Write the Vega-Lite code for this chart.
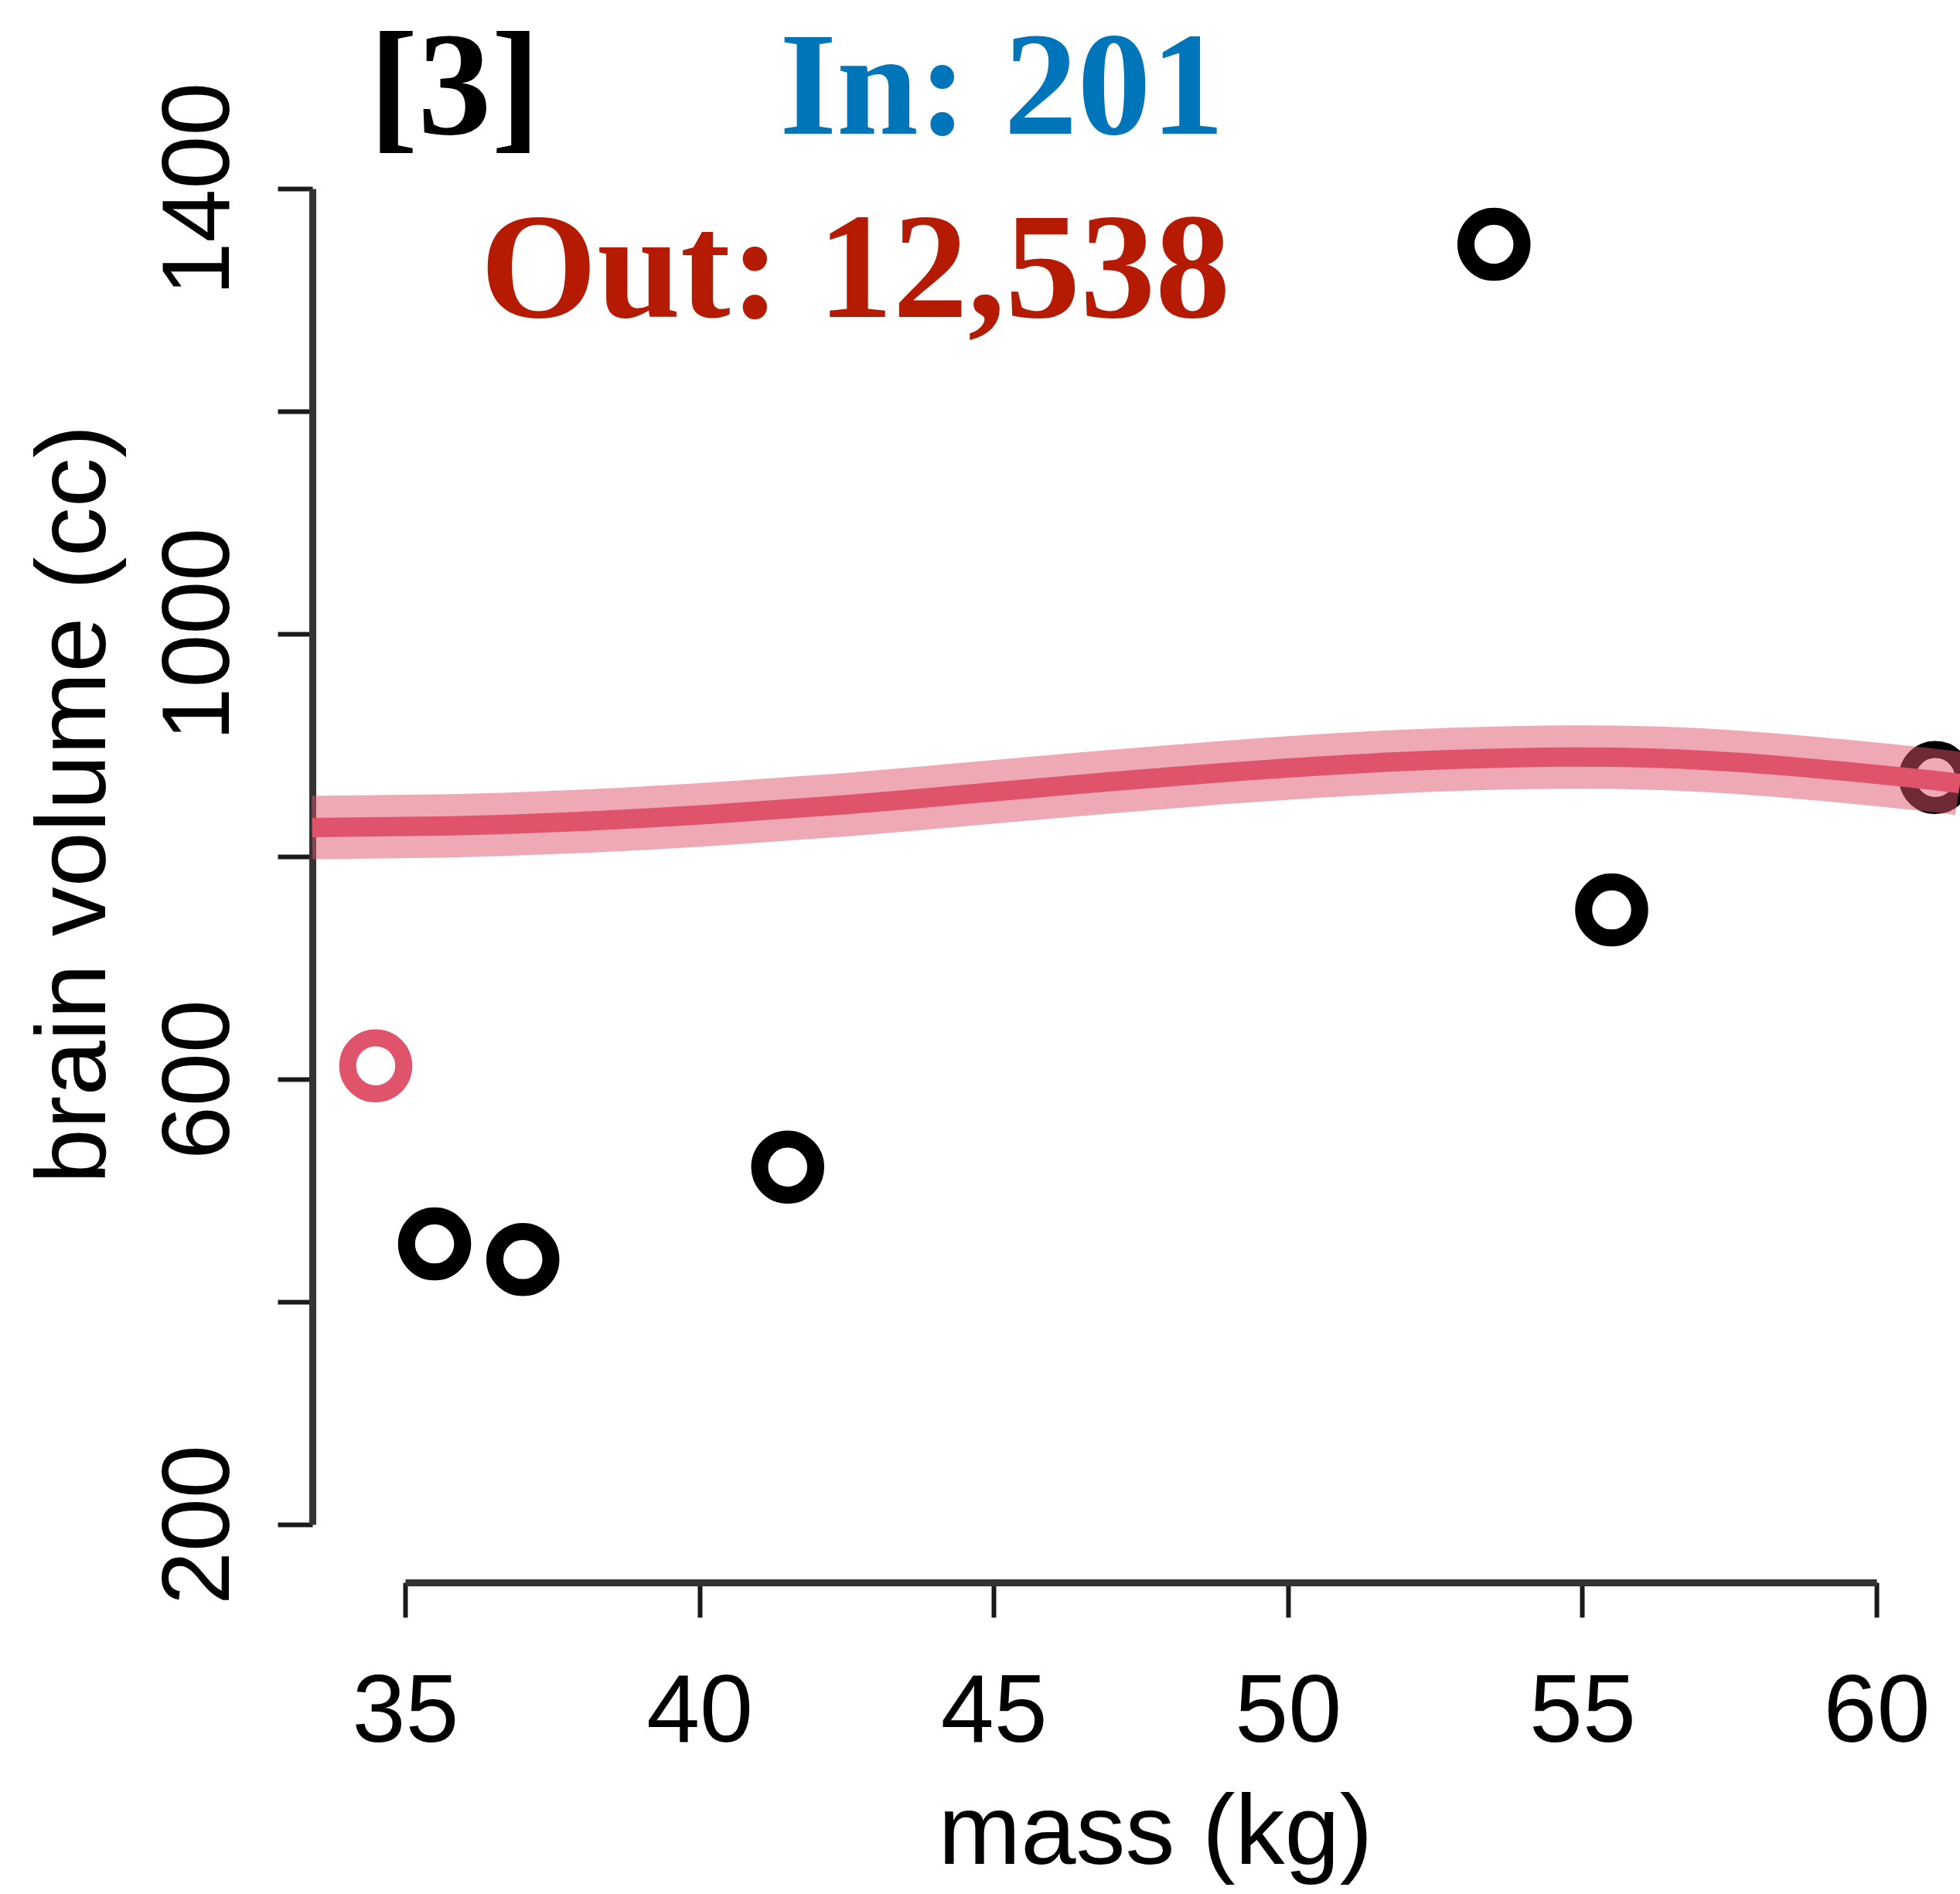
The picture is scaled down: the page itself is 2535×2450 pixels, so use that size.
{
  "$schema": "https://vega.github.io/schema/vega-lite/v6.json",
  "width": 1903,
  "height": 1728,
  "autosize": {"type": "none"},
  "padding": {"left": 524, "top": 244, "right": 108, "bottom": 478},
  "background": "white",
  "config": {"view": {"stroke": null}, "font": "Liberation Sans"},
  "datasets": {
    "points": [
      {"species": "afarensis", "mass": 37.0, "brain": 438, "status": "kept"},
      {"species": "africanus", "mass": 35.5, "brain": 452, "status": "kept"},
      {"species": "habilis", "mass": 34.5, "brain": 612, "status": "held out"},
      {"species": "boisei", "mass": 41.5, "brain": 521, "status": "kept"},
      {"species": "rudolfensis", "mass": 55.5, "brain": 752, "status": "kept"},
      {"species": "ergaster", "mass": 61.0, "brain": 871, "status": "kept"},
      {"species": "sapiens", "mass": 53.5, "brain": 1350, "status": "kept"}
    ],
    "fit": [
      {"mass": 33.42, "brain": 826},
      {"mass": 35.64, "brain": 827.5},
      {"mass": 37.93, "brain": 831.5},
      {"mass": 40.2, "brain": 838},
      {"mass": 42.47, "brain": 846.5},
      {"mass": 44.76, "brain": 857},
      {"mass": 47.03, "brain": 867.5},
      {"mass": 49.31, "brain": 877},
      {"mass": 51.59, "brain": 884.5},
      {"mass": 53.87, "brain": 888.8},
      {"mass": 56.14, "brain": 888.5},
      {"mass": 58.42, "brain": 881.5},
      {"mass": 60.7, "brain": 870},
      {"mass": 61.42, "brain": 865.5}
    ]
  },
  "layer": [
    {
      "data": {"name": "points"},
      "mark": {"type": "point", "shape": "circle", "filled": false, "size": 5256, "strokeWidth": 22, "opacity": 1},
      "encoding": {
        "x": {
          "field": "mass", "type": "quantitative", "title": "mass (kg)",
          "scale": {"domain": [35, 60], "nice": false, "zero": false},
          "axis": {
            "values": [35, 40, 45, 50, 55, 60], "format": "d", "offset": 75, "grid": false,
            "domainColor": "#333333", "domainWidth": 9, "tickColor": "#1a1a1a", "tickWidth": 6, "tickSize": 45,
            "labelFont": "Liberation Sans", "labelFontSize": 124, "labelColor": "#000000", "labelPadding": 160,
            "labelBaseline": "alphabetic", "labelFlush": false, "labelOverlap": false, "labelBound": false, "labelLimit": 0,
            "titleFont": "Liberation Sans", "titleFontSize": 128, "titleFontWeight": "normal", "titleColor": "#000000",
            "titleX": 970, "titleY": 363, "titleAlign": "center", "titleBaseline": "alphabetic", "titleLimit": 0
          }
        },
        "y": {
          "field": "brain", "type": "quantitative", "title": "brain volume (cc)",
          "scale": {"domain": [200, 1400], "nice": false, "zero": false},
          "axis": {
            "values": [200, 400, 600, 800, 1000, 1200, 1400], "format": "d",
            "labelExpr": "datum.value % 400 == 200 ? datum.label : ''",
            "offset": 120, "grid": false,
            "domainColor": "#333333", "domainWidth": 9, "tickColor": "#1a1a1a", "tickWidth": 6, "tickSize": 45,
            "labelFont": "Liberation Sans", "labelFontSize": 124, "labelColor": "#000000", "labelPadding": 64,
            "labelAngle": -90, "labelAlign": "center", "labelBaseline": "alphabetic", "labelLimit": 0,
            "labelFlush": false, "labelOverlap": false, "labelBound": false,
            "titleFont": "Liberation Sans", "titleFontSize": 128, "titleFontWeight": "normal", "titleColor": "#000000",
            "titleAngle": -90, "titleX": -269, "titleY": 796, "titleAlign": "center", "titleBaseline": "alphabetic", "titleLimit": 0
          }
        },
        "stroke": {
          "field": "status", "type": "nominal",
          "scale": {"domain": ["kept", "held out"], "range": ["#000000", "#DF536B"]},
          "legend": null
        }
      }
    },
    {
      "data": {"name": "fit"},
      "mark": {"type": "line", "interpolate": "natural", "strokeWidth": 82, "color": "#DF536B", "opacity": 0.5, "strokeCap": "butt"},
      "encoding": {
        "x": {"field": "mass", "type": "quantitative"},
        "y": {"field": "brain", "type": "quantitative"}
      }
    },
    {
      "data": {"name": "fit"},
      "mark": {"type": "line", "interpolate": "natural", "strokeWidth": 25, "color": "#DF536B", "opacity": 1, "strokeCap": "butt"},
      "encoding": {
        "x": {"field": "mass", "type": "quantitative"},
        "y": {"field": "brain", "type": "quantitative"}
      }
    },
    {
      "data": {"values": [{"label": "[3]"}]},
      "mark": {"type": "text", "font": "Liberation Serif", "fontWeight": "bold", "fontSize": 190, "align": "center", "baseline": "alphabetic", "color": "#000000"},
      "encoding": {
        "x": {"datum": 35.84},
        "y": {"datum": 1449},
        "text": {"field": "label"}
      }
    },
    {
      "data": {"values": [{"label": "In: 201"}]},
      "mark": {"type": "text", "font": "Liberation Serif", "fontWeight": "bold", "fontSize": 190, "align": "center", "baseline": "alphabetic", "color": "#0075B9"},
      "encoding": {
        "x": {"datum": 45.14},
        "y": {"datum": 1449},
        "text": {"field": "label"}
      }
    },
    {
      "data": {"values": [{"label": "Out: 12,538"}]},
      "mark": {"type": "text", "font": "Liberation Serif", "fontWeight": "bold", "fontSize": 194, "align": "center", "baseline": "alphabetic", "color": "#B51B03"},
      "encoding": {
        "x": {"datum": 42.65},
        "y": {"datum": 1284.7},
        "text": {"field": "label"}
      }
    }
  ]
}
